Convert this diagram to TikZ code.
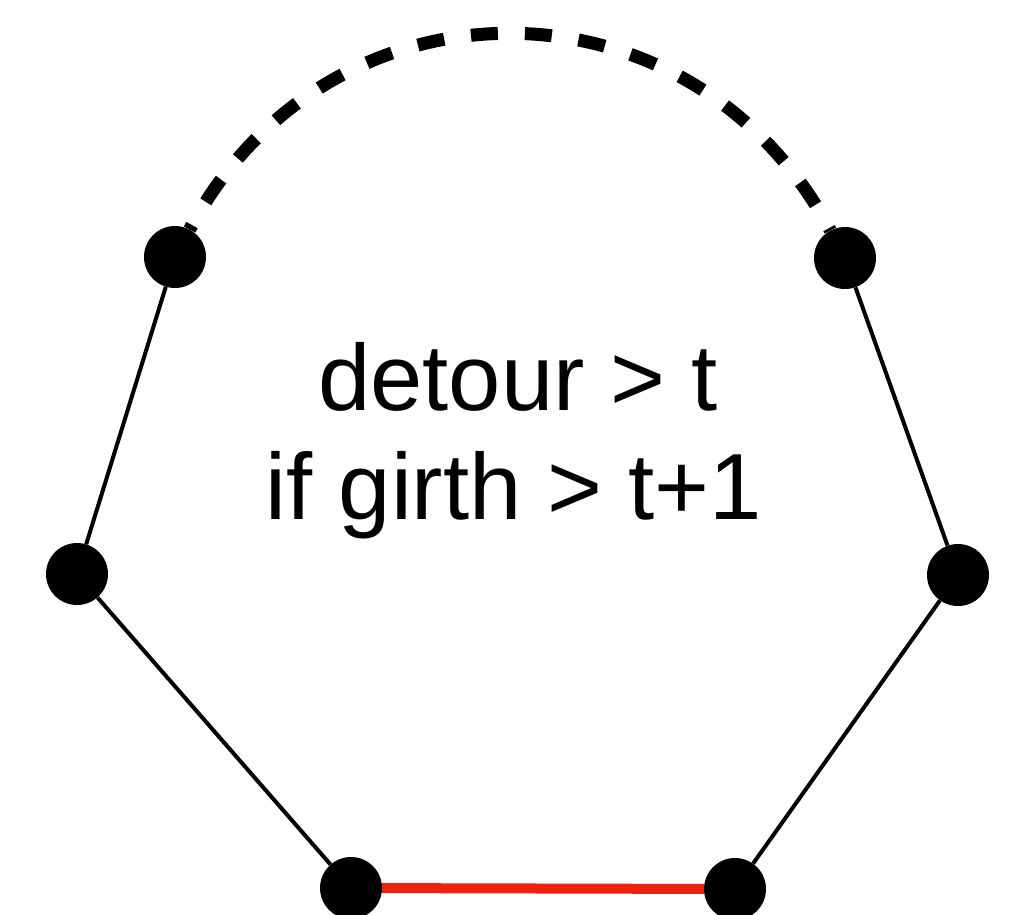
\documentclass[tikz,border=0pt]{standalone}
\usepackage{fontspec}
\setmainfont{Liberation Sans}
\definecolor{edgered}{HTML}{EE2211}
\begin{document}
\begin{tikzpicture}[x=1pt,y=-1pt,
  vertex/.style={circle,fill=black,inner sep=0pt,minimum size=62pt},
  edge/.style={line width=4pt,black},
  rededge/.style={line width=10pt,edgered},
  detourline/.style={line width=13pt,dash pattern=on 27pt off 27pt,dash phase=22pt},
  label/.style={anchor=base,inner sep=0pt,font=\fontsize{94}{109}\selectfont}]
\useasboundingbox (0,0) rectangle (1009,914);
\clip (0,0) rectangle (1009,914);
\node[vertex] (A) at (175,257) {};
\node[vertex] (B) at (845,258) {};
\node[vertex] (C) at (77,574) {};
\node[vertex] (D) at (958,575) {};
\node[vertex] (E) at (351,888) {};
\node[vertex] (F) at (735,889) {};
\draw[edge] (A) -- (C);
\draw[edge] (C) -- (E);
\draw[edge] (B) -- (D);
\draw[edge] (D) -- (F);
\draw[rededge] (E) -- (F);
\draw[detourline] (A.62) .. controls +(-62:297) and +(-118:297) .. (B.118);
\node[label] (t1) at (518,410) {detour > t};
\node[label] (t2) at (514,519) {if girth > t+1};
\end{tikzpicture}
\end{document}
